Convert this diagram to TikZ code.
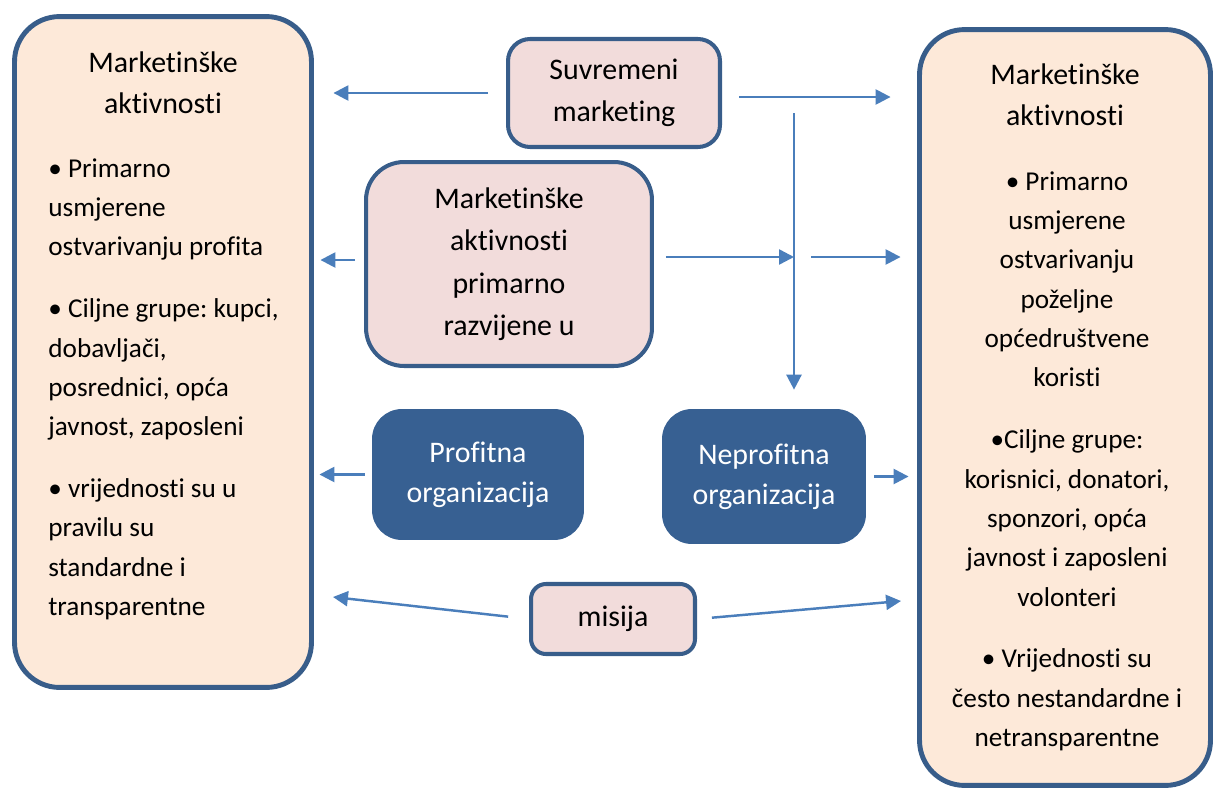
\documentclass[tikz,border=0pt]{standalone}
\usepackage{fontspec}
\setmainfont[Ligatures=NoCommon]{Carlito}
\usepackage{xcolor}
\definecolor{edge3}{RGB}{56,93,138}
\definecolor{peach3}{RGB}{253,233,217}
\definecolor{pink3}{RGB}{242,220,219}
\definecolor{navy3}{RGB}{55,96,146}
\definecolor{arrow3}{RGB}{74,126,187}
\usetikzlibrary{arrows.meta}
\frenchspacing

\begin{document}
\begin{tikzpicture}[x=0.02cm, y=-0.02cm, >={Triangle[length=8.5pt, width=8.5pt]},
  bigbox/.style={draw=edge3, fill=peach3, line width=2.8pt, rounded corners=0.9cm, inner sep=0pt},
  pinkbox/.style={draw=edge3, fill=pink3, line width=2.3pt, inner sep=0pt, align=center,
    font=\fontsize{17}{24.2}\selectfont},
  orgbox/.style={fill=navy3, text=white, rounded corners=0.6cm, inner sep=0pt, align=center,
    font=\fontsize{17}{22.7}\selectfont},
  txt/.style={inner sep=0pt, font=\fontsize{15.5}{22.4}\selectfont},
  head/.style={inner sep=0pt, align=center, font=\fontsize{17}{23.8}\selectfont},
  arr/.style={->, draw=arrow3, line width=1.4pt}]
  \useasboundingbox (0,0) rectangle (1214,788);

  % Side boxes
  \node[bigbox, minimum width=5.94cm, minimum height=13.42cm] (lbox) at (163,352) {};
  \node[bigbox, minimum width=5.82cm, minimum height=15.12cm] (rbox) at (1065,407.5) {};

  % Left box text
  \node[head, anchor=north] (ltitle) at (163,51) {Marketinške\\aktivnosti};
  \node[txt, align=left, anchor=north west] (lbody) at (48,158)
    {• Primarno\\usmjerene\\ostvarivanju profita\\[12.8pt]
     • Ciljne grupe: kupci,\\dobavljači,\\posrednici, opća\\javnost, zaposleni\\[12.8pt]
     • vrijednosti su u\\pravilu su\\standardne i\\transparentne};

  % Right box text
  \node[head, anchor=north] (rtitle) at (1065,63) {Marketinške\\aktivnosti};
  \node[txt, align=center, anchor=north] (rbody) at (1067,171)
    {• Primarno\\usmjerene\\ostvarivanju\\poželjne\\općedruštvene\\koristi\\[12.8pt]
     •Ciljne grupe:\\korisnici, donatori,\\sponzori, opća\\javnost i zaposleni\\volonteri\\[12.8pt]
     • Vrijednosti su\\često nestandardne i\\netransparentne};

  % Middle boxes
  \node[pinkbox, rounded corners=0.44cm, minimum width=4.24cm, minimum height=2.16cm] (sm) at (614,93)
    {Suvremeni\\marketing};
  \node[pinkbox, rounded corners=0.76cm, minimum width=5.72cm, minimum height=4.08cm] (mar) at (509,264)
    {Marketinške\\aktivnosti\\primarno\\razvijene u};
  \node[orgbox, minimum width=4.24cm, minimum height=2.62cm] (pro) at (478,474.5)
    {Profitna\\organizacija};
  \node[orgbox, minimum width=4.08cm, minimum height=2.7cm] (nep) at (764,476.5)
    {Neprofitna\\organizacija};
  \node[pinkbox, rounded corners=0.3cm, minimum width=3.28cm, minimum height=1.4cm] (mis) at (613,619)
    {misija};

  % Arrows from Suvremeni marketing
  \draw[arr, shorten <=0.36cm, shorten >=0.39cm] (sm.west) -- (sm.west -| lbox.east);
  \draw[arr, shorten <=0.34cm, shorten >=0.53cm] ([yshift=-0.08cm]sm.east) -- ([yshift=-0.08cm]sm.east -| rbox.west);

  % Vertical line down to Neprofitna
  \coordinate (vtop) at (794,113);
  \coordinate (vjoin) at (794,257);
  \draw[arr, shorten >=0.38cm] (vtop) -- (vtop |- nep.north);
  \draw[arr, shorten <=0.24cm] (mar.east |- vjoin) -- (vjoin);
  \draw[arr, shorten <=0.34cm, shorten >=0.33cm] (vjoin) -- (vjoin -| rbox.west);
  \draw[arr, shorten <=0.18cm, shorten >=0.13cm] ([yshift=0.08cm]mar.west) -- ([yshift=0.08cm]mar.west -| lbox.east);

  % Organisations
  \draw[arr, shorten <=0.14cm, shorten >=0.11cm] (pro.west) -- (pro.west -| lbox.east);
  \draw[arr, shorten <=0.16cm, shorten >=0.17cm] (nep.east) -- (nep.east -| rbox.west);

  % Misija
  \coordinate (lmis) at (333,597);
  \coordinate (rmis) at (901,601);
  \draw[arr, shorten <=0.42cm] (mis.west) -- (lmis);
  \draw[arr, shorten <=0.3cm] (mis.east) -- (rmis);
\end{tikzpicture}
\end{document}
